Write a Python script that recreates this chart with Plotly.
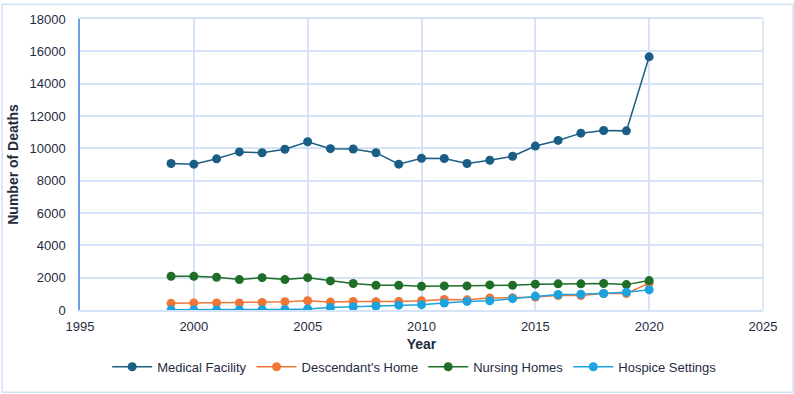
import plotly.graph_objects as go

years = list(range(1999, 2021))
medical_facility = [9060, 9020, 9350, 9780, 9730, 9940, 10410, 9980, 9960, 9730, 9020,
                    9390, 9370, 9060, 9260, 9510, 10140, 10490, 10940, 11100, 11080, 15660]
descendants_home = [410, 430, 430, 430, 470, 510, 570, 490, 530, 510, 530,
                    570, 650, 630, 740, 760, 800, 900, 900, 1020, 1020, 1660]
nursing_homes = [2090, 2080, 2020, 1880, 2000, 1880, 2000, 1800, 1640, 1530, 1530,
                 1470, 1490, 1490, 1550, 1530, 1600, 1620, 1620, 1640, 1570, 1820]
hospice_settings = [10, 10, 10, 10, 20, 30, 60, 160, 200, 245, 300,
                    330, 430, 530, 570, 700, 860, 960, 980, 1020, 1100, 1250]

series = [
    ("Medical Facility", medical_facility, "#1B5E85"),
    ("Descendant's Home", descendants_home, "#F07638"),
    ("Nursing Homes", nursing_homes, "#1E6E27"),
    ("Hospice Settings", hospice_settings, "#1BA3DF"),
]

fig = go.Figure()
for name, vals, color in series:
    fig.add_trace(go.Scatter(
        x=years, y=vals, name=name, mode="lines+markers",
        line=dict(color=color, width=1.5),
        marker=dict(color=color, size=9),
    ))

text_color = "#1F2D3F"
grid_color = "#D6E2F6"

fig.update_layout(
    width=794, height=394,
    margin=dict(l=79, r=31, t=16, b=84),
    paper_bgcolor="white", plot_bgcolor="white",
    font=dict(family="Liberation Sans, Arial, sans-serif", size=13, color=text_color),
    showlegend=True,
    legend=dict(orientation="h", x=0.49, xanchor="center", y=-0.195, yanchor="middle",
                font=dict(size=13, color=text_color), itemwidth=40,
                traceorder="normal"),
    xaxis=dict(range=[1995, 2025], dtick=5, tick0=1995, showgrid=True, gridcolor=grid_color,
               gridwidth=1.5, showline=True, mirror=True, linecolor=grid_color, linewidth=1.5,
               zeroline=False, ticks="", tickfont=dict(size=13, color=text_color),
               ticklabelstandoff=4,
               title=dict(text="<b>Year</b>", font=dict(size=14, color=text_color), standoff=6)),
    yaxis=dict(range=[0, 18000], dtick=2000, tickformat="d", showgrid=True, gridcolor=grid_color,
               gridwidth=1.5, showline=True, linecolor="#6F9FE6", linewidth=1.5,
               zeroline=False, ticks="", tickfont=dict(size=13, color=text_color),
               ticklabelstandoff=10,
               title=dict(text="<b>Number of Deaths</b>", font=dict(size=14, color=text_color),
                          standoff=8)),
)

# right border of plot area
fig.add_shape(type="line", xref="paper", yref="paper", x0=1, x1=1, y0=0, y1=1,
              line=dict(color=grid_color, width=1.5))
# outer chart border
fig.add_shape(type="rect", xref="paper", yref="paper",
              x0=(1 - 79) / 684, x1=(793 - 79) / 684,
              y0=(310 - 393) / 294, y1=(310 - 1) / 294,
              line=dict(color="#D4E1F5", width=1.5), layer="below")

fig.write_html("out.html")
